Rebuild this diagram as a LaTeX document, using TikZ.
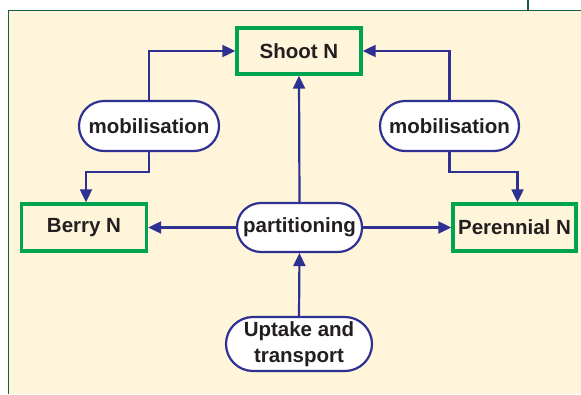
\documentclass[tikz,border=0pt]{standalone}
\usepackage{fontspec}
\setmainfont{Liberation Sans}
\usetikzlibrary{arrows.meta}
\definecolor{cream}{RGB}{255,245,218}
\definecolor{boxgreen}{RGB}{0,163,80}
\definecolor{linkblue}{RGB}{46,49,146}
\definecolor{framegreen}{RGB}{20,95,60}
\definecolor{txt}{RGB}{35,31,32}
\begin{document}
\begin{tikzpicture}[x=1pt,y=-1pt,
  pool/.style={draw=boxgreen,line width=3.4pt,fill=cream,rectangle,inner sep=0pt,
    minimum width=124pt,minimum height=46pt,font=\fontsize{20.5}{26}\selectfont\bfseries,text=txt},
  proc/.style={draw=linkblue,line width=2.2pt,fill=white,rectangle,rounded corners=24pt,inner sep=0pt,
    minimum height=49pt,font=\fontsize{20.5}{26}\selectfont\bfseries,text=txt,align=center},
  conn/.style={draw=linkblue,line width=2.2pt,-{Triangle[length=13pt,width=12pt]}}]
\useasboundingbox (0,0) rectangle (581,394);
\fill[cream] (8,10) rectangle (581,394);
\draw[framegreen,line width=0.9pt] (8,394) -- (8,10) -- (581,10);
\draw[framegreen,line width=2.2pt] (528,0) -- (528,10);
\node[pool] (shoot) at (299,51) {Shoot N};
\node[pool,minimum width=125pt,minimum height=47pt] (berry) at (84,227.5) {Berry N};
\node[pool,minimum width=123pt,minimum height=47pt] (peren) at (514.5,227.5) {Perennial N};
\node[proc,minimum width=125pt] (part) at (299.5,227.5) {partitioning};
\node[proc,minimum width=140pt,minimum height=50pt,rounded corners=25pt] (mobL) at (149,126) {mobilisation};
\node[proc,minimum width=139pt,minimum height=50pt,rounded corners=25pt] (mobR) at (449.5,126) {mobilisation};
\node[proc,minimum width=146pt,minimum height=54pt,rounded corners=27pt] (up) at (299,344) {Uptake and\\transport};
\draw[conn] (mobL.north) |- (shoot.west);
\draw[conn] (mobR.north) |- (shoot.east);
\draw[conn] (mobL.south) -- ++(0,20) -| ([xshift=2pt]berry.north);
\draw[conn] (mobR.south) -- ++(0,20) -| ([xshift=3pt]peren.north);
\draw[conn] (part.north) -- (shoot.south);
\draw[conn] (part.west) -- (berry.east);
\draw[conn] (part.east) -- (peren.west);
\draw[conn] (up.north) -- (part.south);
\end{tikzpicture}
\end{document}
